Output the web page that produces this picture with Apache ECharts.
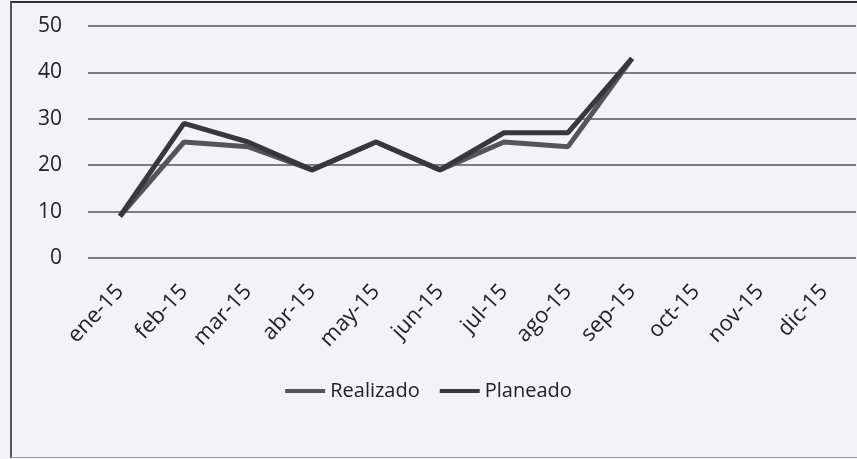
<!DOCTYPE html>
<html>
<head>
<meta charset="utf-8">
<script src="https://cdn.jsdelivr.net/npm/echarts@6/dist/echarts.min.js"></script>
<style>
html, body { margin: 0; padding: 0; background: #f3f3f7; }
#frame { position: absolute; left: 10px; top: 1px; width: 860px; height: 454px;
         border-left: 2px solid #555; border-top: 2px solid #333; border-bottom: 1px solid #999; }
#chart { position: absolute; left: 0; top: 0; width: 857px; height: 459px; }
</style>
</head>
<body>
<div id="frame"></div>
<div id="chart"></div>
<script>
// meses
const months = ["ene-15", "feb-15", "mar-15", "abr-15", "may-15", "jun-15",
                "jul-15", "ago-15", "sep-15", "oct-15", "nov-15", "dic-15"];
// valores
const realizado = [9, 25, 24, 19, 25, 19, 25, 24, 43, null, null, null];
const planeado  = [9, 29, 25, 19, 25, 19, 27, 27, 43, null, null, null];
const yTicks = [0, 10, 20, 30, 40, 50];

const chart = echarts.init(document.getElementById("chart"));
const font = "'Open Sans', 'Noto Sans', sans-serif";

chart.setOption({
    animation: false,
    grid: { left: 88, right: 1, top: 26, height: 232 },
    legend: {
        top: 376,
        left: "center",
        itemWidth: 40,
        itemHeight: 4,
        itemGap: 20,
        icon: "rect",
        textStyle: { fontFamily: font, fontSize: 20, color: "#222" },
        data: ["Realizado", "Planeado"]
    },
    xAxis: {
        type: "category",
        data: months,
        boundaryGap: true,
        axisLine: { show: false },
        axisTick: { show: false },
        axisLabel: { rotate: 47, margin: 30, fontFamily: font, fontSize: 22, color: "#222", interval: 0 }
    },
    yAxis: {
        type: "value",
        min: yTicks[0],
        max: yTicks[yTicks.length - 1],
        interval: 10,
        axisLine: { show: false },
        axisTick: { show: false },
        axisLabel: { margin: 26, fontFamily: font, fontSize: 21, color: "#222" },
        splitLine: { lineStyle: { color: "#555", width: 1.5 } }
    },
    series: [
        {
            name: "Realizado",
            type: "line",
            data: realizado,
            symbol: "none",
            itemStyle: { color: "#555558" },
            lineStyle: { color: "#555558", width: 5 }
        },
        {
            name: "Planeado",
            type: "line",
            data: planeado,
            symbol: "none",
            itemStyle: { color: "#38383c" },
            lineStyle: { color: "#38383c", width: 5 }
        }
    ]
});
</script>
</body>
</html>
